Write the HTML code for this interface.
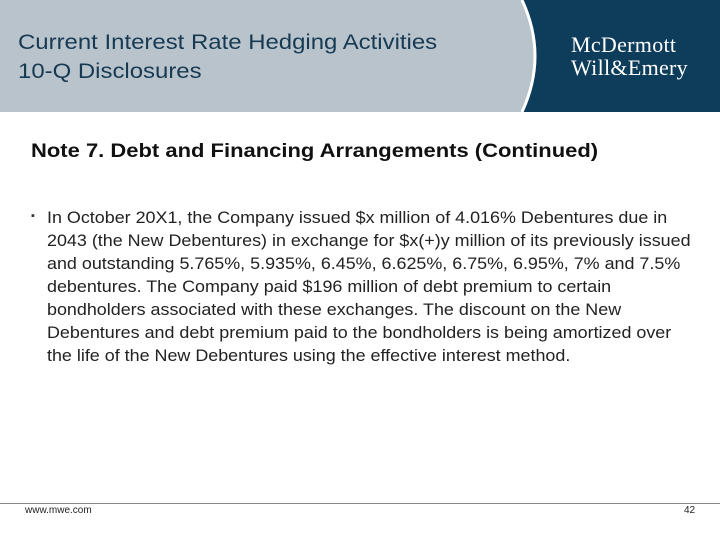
<!DOCTYPE html>
<html><head><meta charset="utf-8"><style>
body{margin:0;width:720px;height:540px;position:relative;background:#fff;font-family:"Liberation Sans",sans-serif;overflow:hidden}
.a{position:absolute;transform-origin:0 0}
</style></head><body>
<svg class="a" style="left:0;top:0" width="720" height="112">
<rect width="720" height="112" fill="#b9c3cc"/>
<path d="M522,0 Q548,56 522,112 L720,112 L720,0 Z" fill="#0e3d5b"/>
<path d="M522,0 Q548,56 522,112" stroke="#fff" stroke-width="3" fill="none"/>
</svg>
<div class="a" style="left:18px;top:28px;font-size:21px;line-height:29px;color:#173a52;white-space:nowrap;transform:scaleX(1.14)">Current Interest Rate Hedging Activities<br>10-Q Disclosures</div>
<div class="a" style="left:571px;top:33px;font-family:'Liberation Serif',serif;font-size:22px;letter-spacing:0.3px;line-height:23px;color:#fff">McDermott<br>Will&amp;Emery</div>
<div class="a" style="left:31px;top:141px;font-size:19px;font-weight:bold;color:#111;white-space:nowrap;transform:scaleX(1.157)">Note 7. Debt and Financing Arrangements (Continued)</div>
<div class="a" style="left:31px;top:210px;font-size:11px;color:#333">▪</div>
<div class="a" style="left:47px;top:207px;font-size:16.3px;line-height:23px;color:#222;white-space:nowrap;transform:scaleX(1.1)">In October 20X1, the Company issued $x million of 4.016% Debentures due in<br>2043 (the New Debentures) in exchange for $x(+)y million of its previously issued<br>and outstanding 5.765%, 5.935%, 6.45%, 6.625%, 6.75%, 6.95%, 7% and 7.5%<br>debentures. The Company paid $196 million of debt premium to certain<br>bondholders associated with these exchanges. The discount on the New<br>Debentures and debt premium paid to the bondholders is being amortized over<br>the life of the New Debentures using the effective interest method.</div>
<div class="a" style="left:0;top:503px;width:720px;height:1px;background:#888"></div>
<div class="a" style="left:25px;top:505px;font-size:10px;color:#222">www.mwe.com</div>
<div class="a" style="left:684px;top:505px;font-size:10px;color:#222">42</div>
</body></html>
